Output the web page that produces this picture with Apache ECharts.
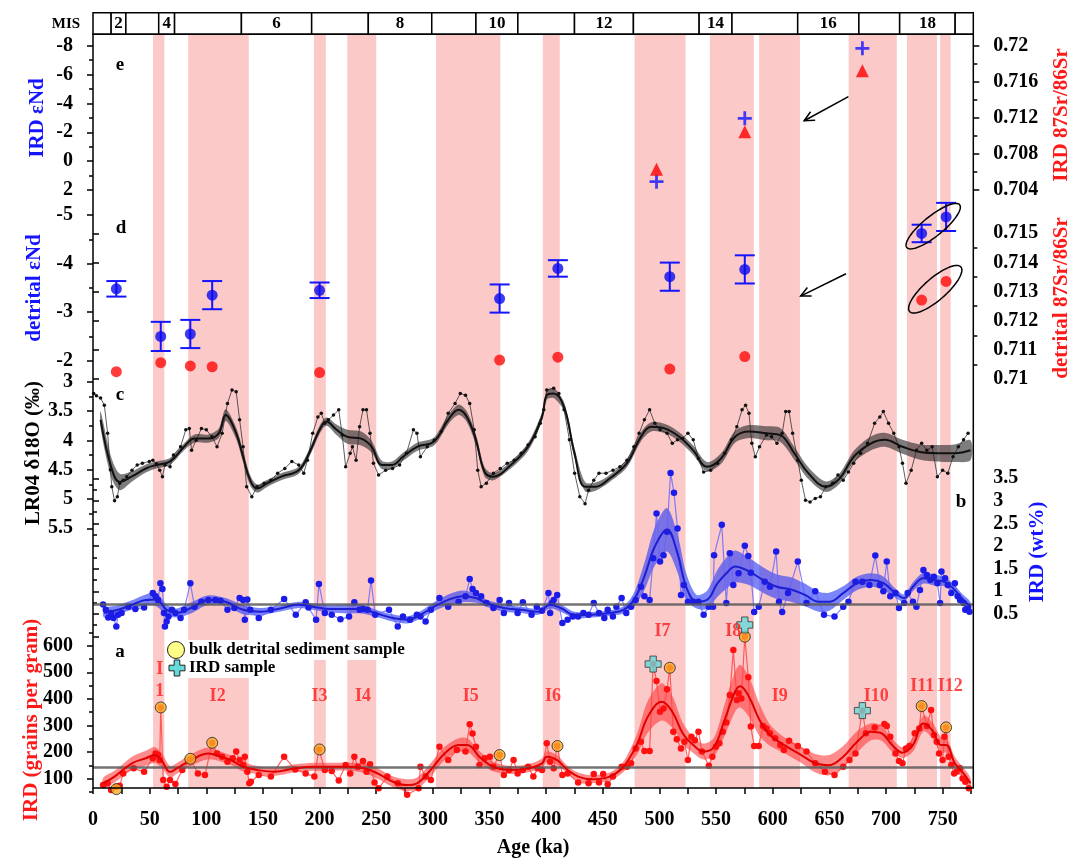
<!DOCTYPE html>
<html>
<head>
<meta charset="utf-8">
<script src="https://cdn.jsdelivr.net/npm/echarts@6/dist/echarts.min.js"></script>
<style>
  html, body { margin: 0; padding: 0; background: #fff; }
  #chart { width: 1087px; height: 863px; }
</style>
</head>
<body>
<div id="chart"></div>
<script>
// ---- 年代轴 / MIS 分界 ----
var ageMax = 777;
var misBounds = [0, 16, 29, 58, 72, 131, 193, 243, 299, 338, 375, 425, 477, 535, 564, 622, 676, 712, 761, 777];
var misLabels = ["", "2", "", "4", "", "6", "", "8", "", "10", "", "12", "", "14", "", "16", "", "18", ""];
// 冰期红色阴影区间 (ka)
var glacialBands = [[53, 63], [84, 137.5], [195, 205.5], [224.5, 250], [302.7, 359.5], [397, 412],
  [478, 523], [544.5, 583.3], [588, 624], [667, 709.5], [718.4, 745], [747.8, 757]];

// ---- e: IRD εNd / IRD 87Sr/86Sr ----
var irdIsoAge = [497.4, 575.3, 679.1];
var irdNd = [1.42, -2.97, -7.82];
var irdSr = [0.70629, 0.71046, 0.71723];
var eSrTicks = [0.704, 0.708, 0.712, 0.716, 0.72];
var eSrMinor = [0.706, 0.71, 0.714, 0.718];

// ---- d: detrital εNd / detrital 87Sr/86Sr ----
var detAge = [20.6, 59.8, 85.9, 105.2, 200, 358.9, 410.3, 509.1, 575.3, 731.4, 753];
var detNd = [-3.48, -2.5, -2.55, -3.35, -3.45, -3.28, -3.9, -3.73, -3.88, -4.62, -4.96];
var detNdErr = [0.16, 0.3, 0.29, 0.29, 0.16, 0.29, 0.17, 0.29, 0.29, 0.18, 0.29];
var detSr = [0.71025, 0.71056, 0.71045, 0.71042, 0.71022, 0.71065, 0.71075, 0.71034, 0.71077, 0.71271, 0.71335];
var dSrTicks = [0.71, 0.711, 0.712, 0.713, 0.714, 0.715];
var dSrMinor = [0.7105, 0.7115, 0.7125, 0.7135, 0.7145];

// ---- c: LR04 δ18O ----
var lr04Raw = [[0.6,3.2],[3,3.24],[6.7,3.28],[10,3.4],[12.9,3.88],[15.3,4.5],[16.6,4.79],[19,5.03],[21.5,4.96],
  [23.6,4.73],[26.7,4.68],[29.8,4.62],[34.4,4.51],[39,4.42],[43.6,4.39],[49.7,4.36],[52.8,4.34],[56,4.4],
  [58.9,4.51],[61.3,4.62],[63.5,4.42],[68,4.45],[71,4.25],[77.3,4.11],[81.9,3.82],[85,3.8],[87,4.17],[91,4.0],
  [95.7,3.8],[100,3.82],[105,3.94],[109.5,4.11],[114,3.88],[118.7,3.37],[122.7,3.14],[126.4,3.17],[129.4,3.65],
  [132.5,4.11],[135.6,4.79],[140.2,4.96],[144.8,4.79],[151,4.73],[157,4.68],[163,4.56],[169.3,4.48],[175.5,4.36],
  [181.6,4.42],[186,4.56],[189.3,4.34],[193.9,3.88],[198.5,3.6],[201.5,3.54],[204.6,3.71],[207.7,3.65],
  [212.3,3.57],[216.9,3.48],[220,3.91],[223,4.45],[227,4.22],[229,4.11],[232.2,4.34],[235.3,3.77],[238.3,3.48],
  [241.4,3.48],[244.5,3.88],[247.5,4.39],[252.1,4.59],[258.3,4.51],[264.4,4.48],[270.6,4.42],[276.7,4.22],
  [282.8,3.82],[285.9,3.88],[289,4.28],[295,4.11],[301.2,4.0],[307.4,3.85],[313.5,3.54],[319.6,3.37],[324.2,3.2],
  [328.8,3.23],[332.5,3.37],[336.5,3.82],[339.6,4.51],[342.6,4.79],[347.2,4.73],[353.4,4.56],[359.5,4.48],
  [365.6,4.39],[371.8,4.34],[377.9,4.22],[384,4.08],[390.2,3.94],[394.8,3.71],[397.9,3.48],[400.5,3.14],
  [406.6,3.11],[411.2,3.2],[415.8,3.48],[420.5,3.99],[425.1,4.56],[429.7,4.96],[434.3,5.08],[437.4,4.85],
  [442,4.68],[446.6,4.56],[452.8,4.56],[458.9,4.51],[465.1,4.45],[471.3,4.34],[477.4,4.11],[482,3.88],
  [486.7,3.65],[491.3,3.48],[495.9,3.71],[500.5,3.82],[506.7,3.88],[511.3,4.05],[515.9,3.99],[520.5,3.97],
  [525.1,3.88],[529.8,3.99],[534.4,4.31],[539,4.54],[545.2,4.51],[551.3,4.39],[557.5,4.22],[563.6,3.99],
  [568.3,3.77],[572.9,3.48],[576,3.4],[579,3.54],[581.5,4.05],[584.6,4.28],[588.3,4.11],[594.4,3.91],[599,3.94],
  [603.7,4.05],[608.3,3.88],[611.4,3.51],[614.4,3.51],[617.5,3.88],[622.1,4.34],[625.2,4.68],[628.9,5.02],
  [632.9,5.05],[637.5,4.99],[642.1,4.96],[646.8,4.79],[652.9,4.73],[657.5,4.59],[662.2,4.68],[666.8,4.54],
  [671.4,4.39],[677.5,4.22],[683.7,4.05],[689.9,3.71],[694.5,3.6],[697.6,3.51],[702.2,3.71],[706.8,3.88],
  [711.4,4.11],[714.5,4.39],[717.6,4.73],[722.2,4.51],[726.8,4.17],[731.4,4.05],[736,4.17],[740.7,4.11],
  [745.3,4.62],[749.9,4.51],[754.5,4.56],[759.1,4.28],[763.8,4.11],[768.4,3.99],[772.4,3.88]];
// 平滑曲线 [年龄, 值, 半宽]
var lr04Smooth = [[6.7,3.65,0.14],[16,4.45,0.17],[23.6,4.71,0.14],[34,4.62,0.09],[46.6,4.48,0.07],[55.8,4.42,0.06],
  [68,4.36,0.06],[80.4,4.11,0.06],[89.6,3.97,0.07],[101.8,3.97,0.07],[111,3.88,0.08],[117,3.57,0.1],
  [126.4,3.88,0.1],[132.5,4.28,0.1],[138.7,4.68,0.09],[144.8,4.82,0.07],[154,4.73,0.06],[166,4.62,0.06],
  [181.6,4.51,0.06],[190.8,4.22,0.07],[200,3.82,0.07],[206,3.68,0.07],[215,3.82,0.09],[224.5,3.94,0.12],
  [236.8,3.97,0.12],[246,4.11,0.1],[255,4.42,0.07],[264,4.42,0.06],[273.6,4.28,0.07],[286,4.11,0.07],
  [301,4.02,0.07],[313.5,3.65,0.08],[322.7,3.48,0.09],[330,3.6,0.09],[338,3.99,0.09],[345.7,4.54,0.08],
  [353.4,4.62,0.06],[368.7,4.42,0.06],[384,4.11,0.07],[396.3,3.6,0.08],[400.5,3.23,0.08],[406.6,3.2,0.08],
  [415.8,3.43,0.08],[425,4.22,0.09],[434.3,4.79,0.08],[443.6,4.79,0.07],[456,4.65,0.06],[471.3,4.39,0.07],
  [483.6,3.94,0.08],[492.8,3.77,0.08],[505,3.8,0.08],[517.5,3.94,0.08],[529.8,4.17,0.08],[542,4.45,0.08],
  [554.4,4.31,0.09],[566.7,3.94,0.1],[579,3.85,0.11],[594.4,3.88,0.12],[606.7,3.91,0.12],[619,4.22,0.11],
  [631.4,4.56,0.1],[646.8,4.79,0.09],[659,4.65,0.09],[671.4,4.28,0.1],[686.8,4.05,0.12],[699,3.99,0.12],
  [714.5,4.11,0.12],[730,4.2,0.13],[745.3,4.22,0.14],[760.7,4.22,0.15],[774.5,4.17,0.17]];

// ---- b: IRD wt% ----
var irdWtRaw = [[8.9,0.71],[11.3,0.59],[13.5,0.42],[16,0.52],[18.1,0.41],[20.6,0.22],[22.1,0.48],[25.2,0.52],
  [31.3,0.66],[37.4,0.61],[45.1,0.64],[52.8,0.96],[55.2,0.89],[57.4,0.81],[59.5,1.18],[61.3,1.05],[62.6,0.52],
  [63.5,0.22],[65,0.33],[66.6,0.44],[69.6,0.59],[72.7,0.52],[77.3,0.41],[80.4,0.59],[85.9,1.18],[89.6,0.66],
  [95.7,0.77],[101.8,0.81],[108,0.81],[112.6,0.79],[118.7,0.59],[124.8,0.63],[129.4,0.85],[132.5,0.81],
  [134,0.37],[136.2,0.82],[138.7,0.59],[146.3,0.41],[157,0.59],[168.7,0.83],[179,0.48],[187.7,0.76],
  [190.2,0.64],[196.9,0.37],[199.4,1.16],[204.6,0.52],[210.7,0.48],[218.4,0.38],[226,0.44],[230.7,0.76],
  [235.3,0.59],[238.3,0.61],[242.3,0.59],[245.4,1.24],[249.1,0.48],[261.3,0.59],[269,0.22],[273.6,0.44],
  [279.8,0.37],[285.9,0.48],[289,0.44],[293.6,0.33],[298.2,0.59],[305.8,0.85],[313.5,0.66],[322.7,0.77],
  [328.8,0.89],[332.5,1.27],[335,1.05],[338,0.96],[342.6,0.89],[347.2,0.74],[353.4,0.63],[358.9,0.81],
  [362.6,0.52],[367.2,0.74],[374.8,0.52],[379.4,0.76],[387.1,0.48],[391.7,0.66],[396.3,0.57],[402,0.96],
  [403.5,0.52],[405.1,0.74],[406.6,0.81],[409.7,0.92],[414.3,0.3],[418.9,0.37],[423.5,0.44],[428.2,0.44],
  [432.8,0.52],[437.4,0.48],[442,0.74],[446.6,0.52],[451.3,0.41],[454.3,0.59],[458.9,0.44],[462,0.66],
  [466.6,0.85],[470.7,0.52],[475,0.66],[479,0.81],[483.6,1.1],[486.7,0.89],[491.3,0.81],[494.4,1.73],
  [497.4,2.72],[500.5,1.66],[503.6,1.8],[506.7,2.32],[509.8,3.62],[512.8,3.18],[515.9,2.39],[519,0.92],
  [521.5,1.14],[525.1,0.77],[529.8,0.77],[534.4,0.77],[539,0.48],[543.6,0.66],[547.3,0.66],[548.2,1.8],
  [555,2.47],[559,0.74],[562.1,1.84],[565.2,1.14],[569.8,1.4],[575.3,2.01],[578.4,1.78],[580.6,1.41],
  [583.6,0.54],[587.6,0.66],[592.9,1.21],[597.5,1.1],[603,1.88],[605.5,0.77],[608.3,0.54],[613.5,0.96],
  [622.1,1.66],[629.8,0.74],[637.5,1.0],[645.2,0.48],[654.5,0.44],[662.2,0.66],[666.8,0.77],[673,1.21],
  [679.1,1.21],[685.3,1.14],[690.5,1.79],[694.5,1.14],[697.6,1.0],[700.6,1.66],[703.7,0.89],[708.3,0.96],
  [711.4,0.63],[716,0.74],[719.1,0.96],[723.7,0.77],[726.8,0.66],[729.9,1.03],[733,1.47],[736,1.36],
  [739.1,1.25],[742.2,1.32],[745.3,1.18],[747.7,0.74],[748.9,1.44],[752.1,1.29],[754.5,1.14],[757.6,0.96],
  [760.7,1.18],[763.2,0.89],[765.3,0.81],[768.4,0.74],[769.9,0.59],[772.4,0.66],[773.6,0.55]];
var irdWtSmooth = [[9.8,0.52,0.1],[22,0.59,0.1],[34.4,0.7,0.1],[46.6,0.81,0.12],[55.8,0.82,0.15],[65,0.59,0.12],
  [74,0.52,0.1],[86.5,0.63,0.12],[101.8,0.81,0.1],[117,0.77,0.08],[132.5,0.59,0.1],[148,0.55,0.08],
  [163,0.61,0.07],[181.6,0.7,0.07],[194,0.66,0.07],[209,0.61,0.08],[224.5,0.61,0.1],[236.8,0.61,0.1],
  [249,0.52,0.08],[264.4,0.41,0.08],[278,0.37,0.08],[289,0.48,0.08],[301,0.66,0.1],[313.5,0.81,0.12],
  [325.8,0.89,0.13],[338,0.85,0.1],[347,0.74,0.08],[362.6,0.63,0.08],[378,0.59,0.07],[393,0.55,0.07],
  [403.5,0.7,0.08],[412.8,0.63,0.08],[425,0.48,0.07],[440.5,0.48,0.06],[456,0.52,0.06],[468.2,0.59,0.08],
  [477.4,0.81,0.15],[486.7,1.33,0.3],[495.9,1.99,0.42],[506.7,2.36,0.48],[515.9,1.84,0.42],[523.6,1.1,0.3],
  [532.8,0.77,0.15],[542,0.81,0.2],[551.3,1.18,0.3],[560.6,1.44,0.35],[566.7,1.55,0.35],[579,1.44,0.3],
  [591.4,1.25,0.28],[603.7,1.1,0.27],[616,1.04,0.27],[628.3,0.92,0.25],[640.6,0.77,0.22],[649.8,0.77,0.2],
  [662.2,0.96,0.15],[674.5,1.18,0.15],[686.8,1.25,0.15],[697.6,1.18,0.15],[708.3,0.96,0.1],[716,0.85,0.08],
  [723.7,1.1,0.1],[733,1.29,0.12],[742.2,1.25,0.12],[751.5,1.21,0.1],[759.1,1.07,0.1],[766.8,0.85,0.1],
  [774.5,0.66,0.1]];
var irdWtMean = 0.72;

// ---- a: IRD grains per gram ----
var irdGrRaw = [[8.9,76],[12.9,83],[16,58],[20.6,70],[23.6,74],[26.7,120],[35.9,139],[45.1,126],[52.8,177],
  [55.2,195],[57.4,189],[58.9,170],[59.8,368],[62,95],[65,70],[68,95],[72.7,80],[78.8,133],[85.9,173],
  [92.6,120],[98.8,114],[105.2,235],[109.5,195],[114,183],[118.7,164],[123.3,177],[126.4,202],[129.4,170],
  [132.5,152],[134,183],[136.2,126],[138,83],[139.3,89],[146.3,114],[157,108],[168.7,183],[178.5,135],
  [187.7,120],[195.4,108],[199.4,210],[204.6,133],[210.7,129],[216.9,93],[223,152],[227,120],[230.7,183],
  [233.7,145],[238.3,167],[241.4,126],[244.5,154],[248.5,86],[252.1,64],[259.8,108],[269,83],[277.3,40],
  [287.4,64],[289,145],[293.6,108],[298.2,95],[305.8,220],[313.5,170],[321.2,208],[328.8,202],[332.5,305],
  [335,270],[338,220],[341.1,152],[345.7,177],[350.3,183],[353.4,145],[358.9,189],[362.6,114],[367.2,133],
  [371.2,170],[374.8,120],[379.4,133],[384,145],[388.7,108],[392.6,139],[396.3,133],[400.5,233],[403.5,164],
  [406.6,139],[409.7,223],[414.3,114],[418.9,120],[428.2,86],[437.4,83],[442,118],[446.6,86],[450.3,118],
  [454.3,79],[458.9,108],[466.6,145],[471.3,145],[475,158],[479,214],[483.6,239],[486.7,204],[491.3,204],
  [494.4,531],[497.4,467],[500.5,352],[503.6,364],[506.7,436],[509.1,517],[512.2,277],[515.3,248],[519,214],
  [522,239],[525.1,170],[528.2,258],[531.3,245],[534.4,277],[537.5,202],[543.6,149],[546.7,183],[549.8,220],
  [552.9,233],[555.9,277],[559,311],[562.1,415],[565.2,584],[568.3,396],[569.8,421],[572.3,402],[575.3,634],
  [578.4,481],[580.6,296],[583.6,223],[587.6,223],[591.4,298],[594.4,289],[597.5,271],[602.1,252],[606.7,227],
  [609.8,208],[614.4,243],[622.1,223],[629.8,202],[637.5,158],[646.1,126],[654.5,114],[662.2,145],[667.7,170],
  [673,195],[679.1,356],[682.2,271],[690,293],[698.5,306],[700.6,298],[703.7,258],[708.3,195],[711.4,167],
  [714.5,158],[717.6,214],[720.6,223],[725.3,271],[729.3,289],[731.4,373],[736,298],[739.7,358],[742.2,264],
  [744.7,239],[746.8,195],[749.9,170],[751.5,258],[753,293],[755.2,183],[757.6,152],[760.1,120],[762.2,126],
  [765.3,139],[767.5,101],[769.9,89],[773,64]];
var irdGrSmooth = [[8.9,83,20],[19,108,22],[34.4,158,25],[46.6,177,28],[54.3,189,30],[60.4,170,28],[68,126,22],
  [74,139,20],[86.5,170,22],[101.8,195,22],[112.6,183,18],[121.7,170,18],[132.5,145,18],[144.8,133,15],
  [160,126,15],[178.5,139,15],[194,145,15],[209,145,15],[224.5,145,15],[239.9,139,18],[252,118,20],
  [264.4,89,20],[276.7,76,22],[286,83,22],[298,133,25],[310.4,195,25],[322.7,227,25],[330.4,227,25],
  [341,183,22],[353.4,145,18],[368.7,133,15],[384,139,15],[396.3,158,18],[400.5,183,20],[409.7,170,18],
  [418.9,133,15],[428.2,108,15],[440.5,98,15],[455.9,108,15],[468.2,145,20],[480.5,233,40],[489.7,333,60],
  [502,389,70],[511.3,352,60],[520.5,271,40],[529.8,227,30],[539,202,30],[548.2,220,35],[557.5,321,60],
  [566.7,427,75],[571.3,448,80],[579,408,75],[588.3,321,60],[597.5,264,40],[609.8,227,30],[625.2,189,30],
  [637.5,158,35],[649.8,151,38],[662.2,183,40],[674.5,239,40],[686.8,277,32],[696,271,28],[705.3,227,25],
  [714.5,198,20],[723.7,227,25],[733,308,30],[740.7,283,30],[748.4,227,30],[753,227,30],[760.7,158,25],
  [768.4,120,20],[774.5,83,20]];
var irdGrMean = 145;
var bulkSamples = [[20.6,61],[59.8,368],[85.9,175],[105.2,235],[200,210],[358.9,189],[410,223],
  [509.1,517],[575.3,634],[731.4,373],[753,293]];
var irdSamples = [[494.4,531],[575.3,678],[679.1,356]];
var irdGrTicks = [100, 200, 300, 400, 500, 600];
var irdGrMinor = [50, 150, 250, 350, 450, 550, 650];
// 事件标注 I1-I12
var eventNames = ["I\n1", "I2", "I3", "I4", "I5", "I6", "I7", "I8", "I9", "I10", "I11", "I12"];
var eventAge = [59, 110, 200, 238.3, 333.4, 406, 502.7, 565.2, 606.1, 691.4, 732, 756.7];
var eventVal = [470, 408, 408, 408, 408, 408, 653, 653, 411, 411, 448, 448];

// ---- 样式 ----
var FONT = "Liberation Serif";
var BLUE = "#1414ff";
var RED = "#ff1a1a";
var L = 93, R = 113.7;

var chart = echarts.init(document.getElementById("chart"));

function grid(top, height) {
  return { left: L, right: R, top: top, height: height };
}
function hiddenX(i) {
  return { gridIndex: i, type: "value", min: 0, max: ageMax, show: false };
}
var tickLine = { color: "#000", width: 1.5 };
var labelStyle = { color: "#000", fontFamily: FONT, fontWeight: "bold", fontSize: 20, margin: 20 };

function valueAxis(gi, pos, min, max, interval, inverse) {
  return {
    gridIndex: gi, type: "value", position: pos, min: min, max: max, interval: interval, inverse: !!inverse,
    axisLine: { show: false },
    axisTick: { show: true, length: 6, lineStyle: tickLine },
    minorTick: { show: true, splitNumber: 2, length: 4, lineStyle: tickLine },
    splitLine: { show: false },
    axisLabel: Object.assign({}, labelStyle)
  };
}
function customAxis(gi, pos, min, max, ticks, len, withLabel) {
  return {
    gridIndex: gi, type: "value", position: pos, min: min, max: max,
    axisLine: { show: false },
    axisTick: { show: true, length: len, lineStyle: tickLine, customValues: ticks },
    splitLine: { show: false },
    axisLabel: Object.assign({}, labelStyle, {
      show: withLabel, customValues: ticks,
      formatter: function (v) { return String(parseFloat(Number(v).toFixed(4))); }
    })
  };
}

// 置信带：用 custom 多边形画 (上界 + 反向下界)
function bandSeries(arr, xi, yi, color) {
  return {
    type: "custom", xAxisIndex: xi, yAxisIndex: yi, silent: true, z: 3,
    data: arr,
    renderItem: function (params, api) {
      if (params.dataIndex !== 0) return;
      var up = arr.map(function (d) { return api.coord([d[0], d[1] + d[2]]); });
      var lo = arr.map(function (d) { return api.coord([d[0], d[1] - d[2]]); }).reverse();
      return { type: "polygon", shape: { points: up.concat(lo), smooth: 0.3 }, style: { fill: color } };
    }
  };
}
function meanLine(v) {
  return { silent: true, symbol: ["none", "none"], label: { show: false },
    lineStyle: { color: "rgba(90,90,90,0.85)", width: 2.5, type: "solid" }, data: [{ yAxis: v }] };
}

var plusPath = "path://M4,0L6,0L6,4L10,4L10,6L6,6L6,10L4,10L4,6L0,6L0,4L4,4Z";
var fatPlusPath = "path://M3,0L7,0L7,3L10,3L10,7L7,7L7,10L3,10L3,7L0,7L0,3L3,3Z";

var option = {
  animation: false,
  backgroundColor: "#fff",
  grid: [
    grid(34.3, 760.7),   // 0 外框 + 冰期带
    grid(12.7, 21.6),    // 1 MIS
    grid(45.7, 144.3),   // 2 e
    grid(215, 145.7),    // 3 d 左
    grid(233.3, 145.7),  // 4 d 右
    grid(381.7, 146.6),  // 5 c
    grid(478.3, 158.2),  // 6 b
    grid(619.1, 175.6)   // 7 a
  ],
  xAxis: [
    {
      gridIndex: 0, type: "value", min: 0, max: ageMax, interval: 25,
      axisLine: { show: false },
      axisTick: { show: true, length: 6, lineStyle: tickLine },
      splitLine: { show: false },
      axisLabel: Object.assign({}, labelStyle, {
        margin: 22, showMaxLabel: false,
        formatter: function (v) { return v % 50 === 0 ? String(v) : ""; }
      }),
      name: "Age (ka)", nameLocation: "middle", nameGap: 50,
      nameTextStyle: { color: "#000", fontFamily: FONT, fontWeight: "bold", fontSize: 20 }
    },
    hiddenX(1), hiddenX(2), hiddenX(3), hiddenX(4), hiddenX(5), hiddenX(6), hiddenX(7)
  ],
  yAxis: [
    { gridIndex: 0, type: "value", min: 0, max: 1, show: false },
    { gridIndex: 1, type: "value", min: 0, max: 1, show: false },
    valueAxis(2, "left", -8, 2, 2, true),                        // 2
    customAxis(2, "right", 0.704, 0.72, eSrTicks, 6, true),      // 3
    valueAxis(3, "left", -5, -2, 1, true),                       // 4
    customAxis(4, "right", 0.71, 0.715, dSrTicks, 6, true),      // 5
    valueAxis(5, "left", 3, 5.5, 0.5, true),                     // 6
    Object.assign(valueAxis(6, "right", 0, 3.5, 0.5, false), {   // 7
      axisLabel: Object.assign({}, labelStyle, { formatter: function (v) { return v === 0 ? "" : String(v); } })
    }),
    customAxis(7, "left", 40, 700, irdGrTicks, 6, true),         // 8
    customAxis(7, "left", 40, 700, irdGrMinor, 4, false),        // 9
    customAxis(2, "right", 0.704, 0.72, eSrMinor, 4, false),     // 10
    customAxis(4, "right", 0.71, 0.715, dSrMinor, 4, false)      // 11
  ],
  series: [
    // 冰期阴影
    { type: "line", xAxisIndex: 0, yAxisIndex: 0, data: [], z: 1, silent: true,
      markArea: { silent: true, itemStyle: { color: "#fcc9c9", opacity: 1 },
        data: glacialBands.map(function (b) { return [{ xAxis: b[0] }, { xAxis: b[1] }]; }) } },
    // MIS 条
    { type: "line", xAxisIndex: 1, yAxisIndex: 1, data: [], silent: true,
      markArea: { silent: true,
        itemStyle: { color: "#fff", opacity: 1, borderColor: "#000", borderWidth: 1.5 },
        label: { show: true, position: "inside", color: "#000", fontFamily: FONT, fontWeight: "bold", fontSize: 17,
          formatter: function (p) { return p.name; } },
        data: misLabels.map(function (lab, i) {
          return [{ xAxis: misBounds[i], name: lab }, { xAxis: misBounds[i + 1] }];
        }) } },
    // e
    { type: "scatter", xAxisIndex: 2, yAxisIndex: 2, symbol: plusPath, symbolSize: 14, z: 6,
      itemStyle: { color: BLUE }, data: irdIsoAge.map(function (a, i) { return [a, irdNd[i]]; }) },
    { type: "scatter", xAxisIndex: 2, yAxisIndex: 3, symbol: "triangle", symbolSize: 13, z: 6,
      itemStyle: { color: "#ff0000" }, data: irdIsoAge.map(function (a, i) { return [a, irdSr[i]]; }) },
    // d
    { type: "custom", xAxisIndex: 3, yAxisIndex: 4, z: 5, silent: true,
      data: detAge.map(function (a, i) { return [a, detNd[i] - detNdErr[i], detNd[i] + detNdErr[i]]; }),
      renderItem: function (params, api) {
        var p1 = api.coord([api.value(0), api.value(1)]);
        var p2 = api.coord([api.value(0), api.value(2)]);
        var w = 10, st = { stroke: BLUE, lineWidth: 2 };
        return { type: "group", children: [
          { type: "line", shape: { x1: p1[0], y1: p1[1], x2: p2[0], y2: p2[1] }, style: st },
          { type: "line", shape: { x1: p1[0] - w, y1: p1[1], x2: p1[0] + w, y2: p1[1] }, style: st },
          { type: "line", shape: { x1: p2[0] - w, y1: p2[1], x2: p2[0] + w, y2: p2[1] }, style: st }
        ] };
      } },
    { type: "scatter", xAxisIndex: 3, yAxisIndex: 4, symbolSize: 11, z: 6,
      itemStyle: { color: "#0a0af0" }, data: detAge.map(function (a, i) { return [a, detNd[i]]; }) },
    { type: "scatter", xAxisIndex: 4, yAxisIndex: 5, symbolSize: 11, z: 6,
      itemStyle: { color: "#ff0a0a" }, data: detAge.map(function (a, i) { return [a, detSr[i]]; }) },

    // c: LR04
    bandSeries(lr04Smooth, 5, 6, "rgba(45,45,45,0.62)"),
    { type: "line", xAxisIndex: 5, yAxisIndex: 6, data: lr04Raw, symbol: "circle", symbolSize: 3.5, z: 4, clip: false,
      itemStyle: { color: "#111" }, lineStyle: { color: "rgba(40,40,40,0.75)", width: 1 } },
    { type: "line", xAxisIndex: 5, yAxisIndex: 6, data: lr04Smooth.map(function (d) { return [d[0], d[1]]; }),
      smooth: 0.4, symbol: "none", z: 5, clip: false, lineStyle: { color: "#111", width: 2 } },

    // b: IRD wt%
    bandSeries(irdWtSmooth, 6, 7, "rgba(40,60,245,0.62)"),
    { type: "line", xAxisIndex: 6, yAxisIndex: 7, data: irdWtRaw, symbol: "circle", symbolSize: 6.5, z: 4, clip: false,
      itemStyle: { color: "#1c1ce8" }, lineStyle: { color: "rgba(100,100,255,0.8)", width: 1.2 },
      markLine: meanLine(irdWtMean) },
    { type: "line", xAxisIndex: 6, yAxisIndex: 7, data: irdWtSmooth.map(function (d) { return [d[0], d[1]]; }),
      smooth: 0.4, symbol: "none", z: 5, clip: false, lineStyle: { color: "#1e1ed2", width: 2 } },

    // a: IRD grains per gram
    bandSeries(irdGrSmooth, 7, 8, "rgba(255,45,45,0.55)"),
    { type: "line", xAxisIndex: 7, yAxisIndex: 8, data: irdGrRaw, symbol: "circle", symbolSize: 6.5, z: 4, clip: false,
      itemStyle: { color: "#ff1010" }, lineStyle: { color: "rgba(255,70,70,0.85)", width: 1.2 },
      markLine: meanLine(irdGrMean) },
    { type: "line", xAxisIndex: 7, yAxisIndex: 8, data: irdGrSmooth.map(function (d) { return [d[0], d[1]]; }),
      smooth: 0.4, symbol: "none", z: 5, clip: false, lineStyle: { color: "#e00000", width: 2 } },
    { type: "scatter", xAxisIndex: 7, yAxisIndex: 8, data: bulkSamples, symbolSize: 11, z: 7,
      itemStyle: { color: "#f9ac25", borderColor: "#222", borderWidth: 1 } },
    { type: "scatter", xAxisIndex: 7, yAxisIndex: 8, data: irdSamples, symbol: fatPlusPath, symbolSize: 16, z: 7,
      itemStyle: { color: "#66dada", borderColor: "#333", borderWidth: 1 } },
    { type: "scatter", xAxisIndex: 7, yAxisIndex: 8, symbolSize: 0, z: 8, silent: true,
      data: eventNames.map(function (n, i) { return { name: n, value: [eventAge[i], eventVal[i]] }; }),
      label: { show: true, position: "inside", formatter: "{b}", color: RED, fontFamily: FONT,
        fontWeight: "bold", fontSize: 18, lineHeight: 22 } }
  ]
};

chart.setOption(option);

// ---- 注释图形：外框、箭头、椭圆、轴标题、图例 ----
function px(xi, yi, p) {
  return chart.convertToPixel({ xAxisIndex: xi, yAxisIndex: yi }, p);
}
function arrow(xi, yi, from, to) {
  var a = px(xi, yi, from), b = px(xi, yi, to);
  var ang = Math.atan2(a[1] - b[1], a[0] - b[0]), len = 11, s = 0.45;
  var h1 = [b[0] + len * Math.cos(ang + s), b[1] + len * Math.sin(ang + s)];
  var h2 = [b[0] + len * Math.cos(ang - s), b[1] + len * Math.sin(ang - s)];
  return [
    { type: "line", shape: { x1: a[0], y1: a[1], x2: b[0], y2: b[1] }, style: { stroke: "#000", lineWidth: 1.5 }, z: 20 },
    { type: "polyline", shape: { points: [h1, b, h2] }, style: { stroke: "#000", lineWidth: 1.5, fill: "none" }, z: 20 }
  ];
}
function ellipse(xi, yi, c, ra, rb, deg) {
  var p = px(xi, yi, c), th = deg * Math.PI / 180, pts = [];
  for (var k = 0; k < 72; k++) {
    var t = k / 72 * 2 * Math.PI;
    pts.push([p[0] + ra * Math.cos(t) * Math.cos(th) - rb * Math.sin(t) * Math.sin(th),
              p[1] + ra * Math.cos(t) * Math.sin(th) + rb * Math.sin(t) * Math.cos(th)]);
  }
  return { type: "polygon", shape: { points: pts }, style: { stroke: "#000", lineWidth: 1.5, fill: "none" }, z: 20 };
}
function vText(x, y, text, color) {
  return { type: "text", x: x, y: y, rotation: Math.PI / 2, z: 20,
    style: { text: text, fill: color, font: "bold 21px '" + FONT + "'", align: "center", verticalAlign: "middle" } };
}
function hText(x, y, text, size) {
  return { type: "text", x: x, y: y, z: 20,
    style: { text: text, fill: "#000", font: "bold " + size + "px '" + FONT + "'", align: "center", verticalAlign: "middle" } };
}
function plusPoly(cx, cy, h, w) {
  return [[cx - w, cy - h], [cx + w, cy - h], [cx + w, cy - w], [cx + h, cy - w], [cx + h, cy + w], [cx + w, cy + w],
    [cx + w, cy + h], [cx - w, cy + h], [cx - w, cy + w], [cx - h, cy + w], [cx - h, cy - w], [cx - w, cy - w]];
}

var tl = px(0, 0, [0, 1]), br = px(0, 0, [ageMax, 0]);
var graphics = [
  { type: "rect", shape: { x: tl[0], y: tl[1], width: br[0] - tl[0], height: br[1] - tl[1] },
    style: { stroke: "#000", lineWidth: 1.5, fill: "none" }, z: 30 },
  hText(66, 24, "MIS", 15),
  hText(120, 65, "e", 19), hText(121, 228, "d", 19), hText(120, 395, "c", 19),
  hText(961, 502, "b", 19), hText(120, 652, "a", 19),
  vText(38, 118, "IRD \u03B5Nd", BLUE),
  vText(35, 288, "detrital \u03B5Nd", BLUE),
  vText(34, 453, "LR04 \u03B418O (\u2030)", "#000"),
  vText(32, 720, "IRD (grains per gram)", RED),
  vText(1062, 115, "IRD 87Sr/86Sr", RED),
  vText(1062, 298, "detrital 87Sr/86Sr", RED),
  vText(1038, 552, "IRD (wt%)", BLUE),
  // 图例
  { type: "text", x: 186, y: 650, z: 25,
    style: { text: "bulk detrital sediment sample", fill: "#000", font: "bold 17px '" + FONT + "'",
      verticalAlign: "middle", backgroundColor: "#fff", padding: [2, 3, 1, 3] } },
  { type: "text", x: 186, y: 668, z: 25,
    style: { text: "IRD sample", fill: "#000", font: "bold 17px '" + FONT + "'",
      verticalAlign: "middle", backgroundColor: "#fff", padding: [1, 3, 2, 3] } },
  { type: "circle", shape: { cx: 176, cy: 650, r: 8.5 }, style: { fill: "#ffff88", stroke: "#222", lineWidth: 1 }, z: 26 },
  { type: "polygon", shape: { points: plusPoly(177, 668, 8, 2.8) }, style: { fill: "#66dada", stroke: "#222", lineWidth: 1 }, z: 26 },
  ellipse(3, 4, [741.6, -4.77], 34, 10, -39),
  ellipse(4, 5, [743.4, 0.71308], 34, 11, -41)
]
  .concat(arrow(2, 2, [666.8, -4.47], [627.7, -2.8]))
  .concat(arrow(3, 4, [664.6, -3.79], [624.6, -3.33]));

chart.setOption({ graphic: graphics });

window.addEventListener("resize", function () {
  chart.resize();
});
</script>
</body>
</html>
